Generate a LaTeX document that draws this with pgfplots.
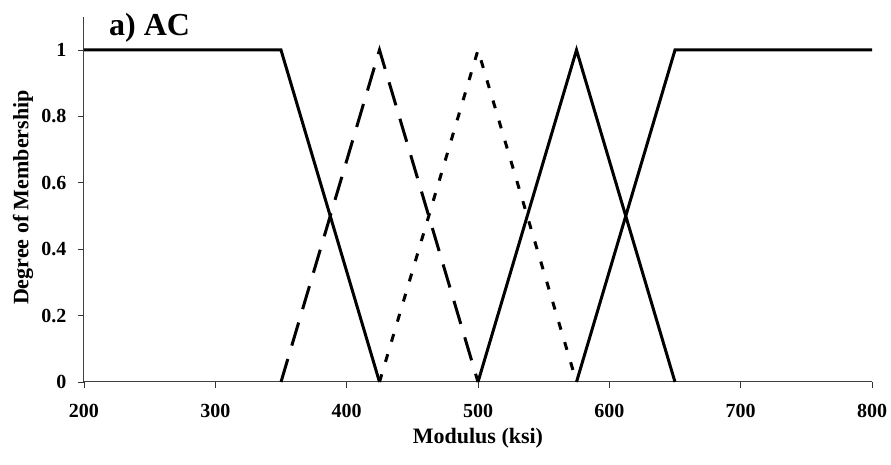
\documentclass[border=0pt]{standalone}
\usepackage{fontspec}
\setmainfont{Liberation Serif}
\usepackage{pgfplots}
\pgfplotsset{compat=1.18}
\begin{document}
\begin{tikzpicture}
\useasboundingbox (-84pt,-83pt) rectangle (807pt,382pt);
\begin{axis}[
  at={(0pt,0pt)}, anchor=south west,
  scale only axis, width=788pt, height=365.2pt,
  xmin=200, xmax=800, ymin=0, ymax=1.1,
  axis lines*=left,
  clip=false,
  xtick={200,300,400,500,600,700,800},
  ytick={0,0.2,0.4,0.6,0.8,1},
  yticklabels={0,0.2,0.4,0.6,0.8,1},
  tick align=outside, major tick length=6pt,
  tick style={black!80, line width=0.8pt},
  axis line style={line width=1pt, black!75},
  /pgf/number format/assume math mode=true,
  tick label style={font=\bfseries\fontsize{20}{24}\selectfont},
  xticklabel style={yshift=-13pt},
  yticklabel style={xshift=-8pt},
  label style={font=\bfseries\fontsize{22}{26}\selectfont},
  xlabel={Modulus (ksi)},
  ylabel={Degree of Membership},
  xlabel style={at={(rel axis cs:0.5,0)}, anchor=center, yshift=-56pt},
  ylabel style={at={(rel axis cs:0,0.505)}, anchor=center, rotate=0, yshift=61pt},
]
\addplot[black, line width=3pt] coordinates {(200,1) (350,1) (425,0)};
\addplot[black, line width=3pt, dash pattern=on 24pt off 14pt] coordinates {(350,0) (425,1) (500,0)};
\addplot[black, line width=3pt, dash pattern=on 8pt off 13pt] coordinates {(425,0) (500,1) (575,0)};
\addplot[black, line width=3pt] coordinates {(500,0) (575,1) (650,0)};
\addplot[black, line width=3pt] coordinates {(575,0) (650,1) (800,1)};
\node[anchor=base west, inner sep=0pt, font=\bfseries\fontsize{32}{36}\selectfont] at (axis cs:219,1.045) {a) AC};
\end{axis}
\end{tikzpicture}
\end{document}
